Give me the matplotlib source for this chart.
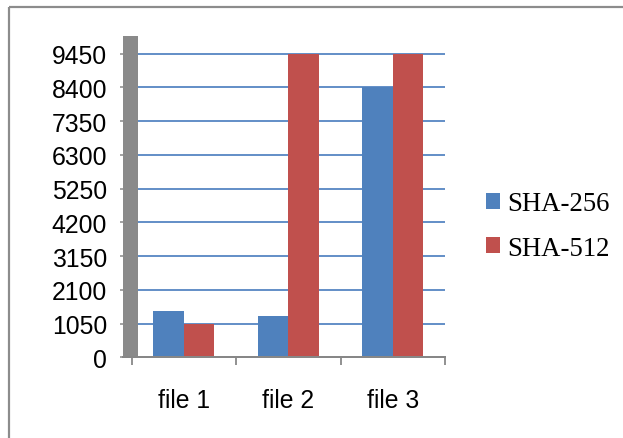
import matplotlib
matplotlib.use("Agg")
import matplotlib.pyplot as plt
from matplotlib.patches import Rectangle
from matplotlib.lines import Line2D
import numpy as np

# Data
categories = ["file 1", "file 2", "file 3"]
sha256 = [1450, 1290, 8420]
sha512 = [1050, 9450, 9450]
series_names = ["SHA-256", "SHA-512"]
y_ticks = [0, 1050, 2100, 3150, 4200, 5250, 6300, 7350, 8400, 9450]

BLUE = "#4F81BD"
RED = "#C0504D"
WALL = "#8A8A8A"
AXIS_GRAY = "#878787"
GRID = "#5585C2"

W, H, DPI = 623, 439, 100
fig = plt.figure(figsize=(W / DPI, H / DPI), dpi=DPI)

def px(v):
    return v * 72.0 / DPI

# outer chart frame (left and top edges visible)
fig.add_artist(Line2D([9 / W, 9 / W], [0, 1 - 8 / H], transform=fig.transFigure,
                      color="#8C8C8C", lw=px(2.2), solid_capstyle="butt"))
fig.add_artist(Line2D([9 / W, 1], [1 - 8 / H, 1 - 8 / H], transform=fig.transFigure,
                      color="#8C8C8C", lw=px(2.2), solid_capstyle="butt"))

left_px, right_px = 123, 445
top_px, bottom_px = 37, 358.3
ax = fig.add_axes([left_px / W, 1 - bottom_px / H,
                   (right_px - left_px) / W, (bottom_px - top_px) / H])

unit = (right_px - 131.5) / 3.0
x0 = -0.5 - (131.5 - left_px) / unit
ax.set_xlim(x0, 2.5)
ax.set_ylim(0, 10000)

x = np.arange(len(categories))
bw = 0.292
ax.bar(x - bw / 2, sha256, width=bw, color=BLUE, label=series_names[0], zorder=3)
ax.bar(x + bw / 2, sha512, width=bw, color=RED, label=series_names[1], zorder=3)

# side wall
wall_right = -0.5 + (138 - 131.5) / unit
ax.add_patch(Rectangle((0, 0), (wall_right - x0) / (2.5 - x0), 1,
                       transform=ax.transAxes, color=WALL, zorder=4, lw=0))

# gridlines
ax.hlines(y_ticks[1:], wall_right, 2.5, colors=GRID, lw=px(1.8), zorder=1)

for s in ["top", "right", "left"]:
    ax.spines[s].set_visible(False)
ax.spines["bottom"].set_color(AXIS_GRAY)
ax.spines["bottom"].set_linewidth(px(2))
ax.spines["bottom"].set_zorder(5)

ax.set_yticks(y_ticks)
ax.set_yticklabels([str(v) for v in y_ticks])
ax.tick_params(axis="y", length=px(3), width=px(1.5), color=AXIS_GRAY,
               pad=px(13), labelsize=17.8)

ax.set_xticks(x)
ax.set_xticklabels(categories)
ax.set_xticks([-0.5, 0.5, 1.5, 2.5], minor=True)
ax.tick_params(axis="x", which="major", length=0, pad=px(31), labelsize=17.8)
ax.tick_params(axis="x", which="minor", length=px(8), width=px(1.8), color=AXIS_GRAY)

for lbl in ax.get_xticklabels() + ax.get_yticklabels():
    lbl.set_family(["Liberation Sans", "DejaVu Sans"])

leg = ax.legend(loc="center left", bbox_to_anchor=(486 / W, 1 - 227 / H),
                bbox_transform=fig.transFigure, frameon=False,
                prop={"family": ["Liberation Serif", "DejaVu Serif"], "size": 19.3},
                handlelength=0.53, handleheight=0.53, handletextpad=0.25,
                labelspacing=0.72, borderaxespad=0, borderpad=0)

fig.savefig("out.png", dpi=DPI, facecolor="white")
